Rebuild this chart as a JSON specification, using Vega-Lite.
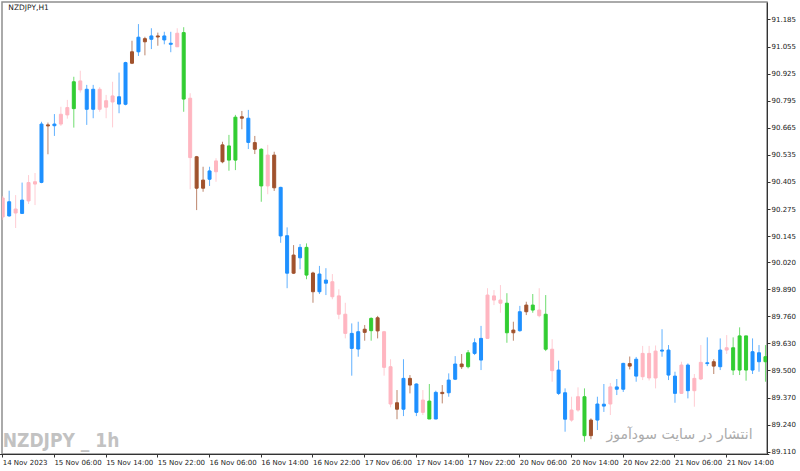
{
"$schema": "https://vega.github.io/schema/vega-lite/v6.json",
"width": 765, "height": 452,
"autosize": {"type": "none"},
"padding": {"left": 2, "top": 2, "right": 33, "bottom": 17},
"background": "white",
"config": {
 "view": {"stroke": "#8f8f8f", "strokeWidth": 1.5},
 "font": "DejaVu Sans",
 "axisX": {"labelAngle": 0}
},
"datasets": {"candles": [
{"time":"2023-11-14 22:00","open":90.328,"high":90.338,"low":90.222,"close":90.237,"signal":"down"},
{"time":"2023-11-14 23:00","open":90.242,"high":90.363,"low":90.238,"close":90.310,"signal":"up-strong"},
{"time":"2023-11-15 00:00","open":90.275,"high":90.342,"low":90.184,"close":90.256,"signal":"down"},
{"time":"2023-11-15 01:00","open":90.254,"high":90.402,"low":90.251,"close":90.318,"signal":"up-strong"},
{"time":"2023-11-15 02:00","open":90.314,"high":90.438,"low":90.299,"close":90.402,"signal":"down"},
{"time":"2023-11-15 03:00","open":90.406,"high":90.448,"low":90.294,"close":90.395,"signal":"down"},
{"time":"2023-11-15 04:00","open":90.403,"high":90.694,"low":90.399,"close":90.683,"signal":"up-strong"},
{"time":"2023-11-15 05:00","open":90.679,"high":90.690,"low":90.538,"close":90.674,"signal":"down-strong"},
{"time":"2023-11-15 06:00","open":90.675,"high":90.731,"low":90.626,"close":90.683,"signal":"up-strong"},
{"time":"2023-11-15 07:00","open":90.683,"high":90.766,"low":90.674,"close":90.730,"signal":"down"},
{"time":"2023-11-15 08:00","open":90.727,"high":90.799,"low":90.709,"close":90.762,"signal":"down"},
{"time":"2023-11-15 09:00","open":90.757,"high":90.910,"low":90.666,"close":90.886,"signal":"up"},
{"time":"2023-11-15 10:00","open":90.890,"high":90.939,"low":90.834,"close":90.847,"signal":"down"},
{"time":"2023-11-15 11:00","open":90.850,"high":90.871,"low":90.679,"close":90.754,"signal":"up-strong"},
{"time":"2023-11-15 12:00","open":90.754,"high":90.871,"low":90.711,"close":90.850,"signal":"up-strong"},
{"time":"2023-11-15 13:00","open":90.850,"high":90.860,"low":90.742,"close":90.754,"signal":"down"},
{"time":"2023-11-15 14:00","open":90.764,"high":90.823,"low":90.711,"close":90.795,"signal":"down"},
{"time":"2023-11-15 15:00","open":90.789,"high":90.886,"low":90.667,"close":90.818,"signal":"down"},
{"time":"2023-11-15 16:00","open":90.814,"high":90.930,"low":90.735,"close":90.779,"signal":"up-strong"},
{"time":"2023-11-15 17:00","open":90.778,"high":90.982,"low":90.773,"close":90.978,"signal":"up-strong"},
{"time":"2023-11-15 18:00","open":90.975,"high":91.083,"low":90.971,"close":91.030,"signal":"down-strong"},
{"time":"2023-11-15 19:00","open":91.030,"high":91.163,"low":91.010,"close":91.100,"signal":"up-strong"},
{"time":"2023-11-15 20:00","open":91.093,"high":91.102,"low":91.013,"close":91.078,"signal":"down-strong"},
{"time":"2023-11-15 21:00","open":91.090,"high":91.143,"low":91.043,"close":91.106,"signal":"up-strong"},
{"time":"2023-11-15 22:00","open":91.106,"high":91.122,"low":91.059,"close":91.101,"signal":"down-strong"},
{"time":"2023-11-15 23:00","open":91.106,"high":91.126,"low":91.066,"close":91.087,"signal":"up-strong"},
{"time":"2023-11-16 00:00","open":91.071,"high":91.126,"low":91.028,"close":91.066,"signal":"up-strong"},
{"time":"2023-11-16 01:00","open":91.054,"high":91.143,"low":91.053,"close":91.119,"signal":"down"},
{"time":"2023-11-16 02:00","open":91.122,"high":91.148,"low":90.742,"close":90.803,"signal":"up"},
{"time":"2023-11-16 03:00","open":90.807,"high":90.831,"low":90.370,"close":90.522,"signal":"down"},
{"time":"2023-11-16 04:00","open":90.526,"high":90.530,"low":90.270,"close":90.375,"signal":"down-strong"},
{"time":"2023-11-16 05:00","open":90.375,"high":90.478,"low":90.358,"close":90.414,"signal":"down-strong"},
{"time":"2023-11-16 06:00","open":90.418,"high":90.478,"low":90.386,"close":90.458,"signal":"up-strong"},
{"time":"2023-11-16 07:00","open":90.454,"high":90.519,"low":90.406,"close":90.506,"signal":"down"},
{"time":"2023-11-16 08:00","open":90.502,"high":90.598,"low":90.495,"close":90.583,"signal":"down-strong"},
{"time":"2023-11-16 09:00","open":90.578,"high":90.631,"low":90.459,"close":90.510,"signal":"up"},
{"time":"2023-11-16 10:00","open":90.510,"high":90.727,"low":90.462,"close":90.716,"signal":"up"},
{"time":"2023-11-16 11:00","open":90.718,"high":90.746,"low":90.658,"close":90.711,"signal":"down-strong"},
{"time":"2023-11-16 12:00","open":90.711,"high":90.751,"low":90.563,"close":90.595,"signal":"up-strong"},
{"time":"2023-11-16 13:00","open":90.594,"high":90.626,"low":90.539,"close":90.562,"signal":"down-strong"},
{"time":"2023-11-16 14:00","open":90.562,"high":90.567,"low":90.310,"close":90.386,"signal":"up"},
{"time":"2023-11-16 15:00","open":90.386,"high":90.583,"low":90.346,"close":90.534,"signal":"down"},
{"time":"2023-11-16 16:00","open":90.534,"high":90.550,"low":90.362,"close":90.377,"signal":"down-strong"},
{"time":"2023-11-16 17:00","open":90.379,"high":90.382,"low":90.113,"close":90.146,"signal":"up-strong"},
{"time":"2023-11-16 18:00","open":90.147,"high":90.187,"low":89.895,"close":89.967,"signal":"up-strong"},
{"time":"2023-11-16 19:00","open":89.967,"high":90.102,"low":89.963,"close":90.054,"signal":"down-strong"},
{"time":"2023-11-16 20:00","open":90.041,"high":90.107,"low":89.986,"close":90.091,"signal":"up-strong"},
{"time":"2023-11-16 21:00","open":90.091,"high":90.110,"low":89.938,"close":89.958,"signal":"up"},
{"time":"2023-11-16 22:00","open":89.968,"high":89.974,"low":89.825,"close":89.878,"signal":"down-strong"},
{"time":"2023-11-16 23:00","open":89.878,"high":90.002,"low":89.867,"close":89.963,"signal":"up-strong"},
{"time":"2023-11-17 00:00","open":89.934,"high":89.991,"low":89.862,"close":89.919,"signal":"up-strong"},
{"time":"2023-11-17 01:00","open":89.926,"high":89.963,"low":89.842,"close":89.854,"signal":"down"},
{"time":"2023-11-17 02:00","open":89.858,"high":89.890,"low":89.746,"close":89.770,"signal":"down"},
{"time":"2023-11-17 03:00","open":89.770,"high":89.825,"low":89.654,"close":89.678,"signal":"down"},
{"time":"2023-11-17 04:00","open":89.678,"high":89.726,"low":89.475,"close":89.606,"signal":"up-strong"},
{"time":"2023-11-17 05:00","open":89.603,"high":89.734,"low":89.566,"close":89.686,"signal":"up-strong"},
{"time":"2023-11-17 06:00","open":89.683,"high":89.718,"low":89.643,"close":89.698,"signal":"down-strong"},
{"time":"2023-11-17 07:00","open":89.691,"high":89.755,"low":89.643,"close":89.750,"signal":"up"},
{"time":"2023-11-17 08:00","open":89.753,"high":89.762,"low":89.654,"close":89.690,"signal":"down-strong"},
{"time":"2023-11-17 09:00","open":89.686,"high":89.690,"low":89.475,"close":89.515,"signal":"down"},
{"time":"2023-11-17 10:00","open":89.518,"high":89.554,"low":89.323,"close":89.339,"signal":"down"},
{"time":"2023-11-17 11:00","open":89.345,"high":89.406,"low":89.266,"close":89.314,"signal":"down-strong"},
{"time":"2023-11-17 12:00","open":89.314,"high":89.554,"low":89.281,"close":89.462,"signal":"up-strong"},
{"time":"2023-11-17 13:00","open":89.462,"high":89.478,"low":89.390,"close":89.430,"signal":"down-strong"},
{"time":"2023-11-17 14:00","open":89.435,"high":89.438,"low":89.281,"close":89.299,"signal":"up-strong"},
{"time":"2023-11-17 15:00","open":89.299,"high":89.406,"low":89.286,"close":89.358,"signal":"down"},
{"time":"2023-11-17 16:00","open":89.353,"high":89.435,"low":89.267,"close":89.267,"signal":"up"},
{"time":"2023-11-17 17:00","open":89.267,"high":89.403,"low":89.266,"close":89.395,"signal":"up-strong"},
{"time":"2023-11-17 18:00","open":89.395,"high":89.430,"low":89.342,"close":89.389,"signal":"down-strong"},
{"time":"2023-11-17 19:00","open":89.393,"high":89.486,"low":89.374,"close":89.454,"signal":"up-strong"},
{"time":"2023-11-17 20:00","open":89.458,"high":89.569,"low":89.454,"close":89.531,"signal":"up-strong"},
{"time":"2023-11-17 21:00","open":89.531,"high":89.579,"low":89.507,"close":89.518,"signal":"down-strong"},
{"time":"2023-11-17 22:00","open":89.518,"high":89.598,"low":89.510,"close":89.585,"signal":"up"},
{"time":"2023-11-17 23:00","open":89.582,"high":89.654,"low":89.574,"close":89.633,"signal":"up-strong"},
{"time":"2023-11-20 00:00","open":89.550,"high":89.714,"low":89.502,"close":89.654,"signal":"up-strong"},
{"time":"2023-11-20 01:00","open":89.654,"high":89.895,"low":89.654,"close":89.862,"signal":"down"},
{"time":"2023-11-20 02:00","open":89.858,"high":89.886,"low":89.814,"close":89.838,"signal":"down"},
{"time":"2023-11-20 03:00","open":89.838,"high":89.910,"low":89.777,"close":89.823,"signal":"down"},
{"time":"2023-11-20 04:00","open":89.823,"high":89.871,"low":89.633,"close":89.681,"signal":"up"},
{"time":"2023-11-20 05:00","open":89.681,"high":89.734,"low":89.643,"close":89.694,"signal":"down-strong"},
{"time":"2023-11-20 06:00","open":89.691,"high":89.810,"low":89.686,"close":89.782,"signal":"up-strong"},
{"time":"2023-11-20 07:00","open":89.782,"high":89.830,"low":89.766,"close":89.814,"signal":"down-strong"},
{"time":"2023-11-20 08:00","open":89.814,"high":89.867,"low":89.777,"close":89.790,"signal":"up"},
{"time":"2023-11-20 09:00","open":89.790,"high":89.895,"low":89.755,"close":89.763,"signal":"down"},
{"time":"2023-11-20 10:00","open":89.770,"high":89.862,"low":89.593,"close":89.602,"signal":"up"},
{"time":"2023-11-20 11:00","open":89.602,"high":89.650,"low":89.446,"close":89.499,"signal":"down"},
{"time":"2023-11-20 12:00","open":89.502,"high":89.547,"low":89.382,"close":89.390,"signal":"up-strong"},
{"time":"2023-11-20 13:00","open":89.393,"high":89.414,"low":89.206,"close":89.266,"signal":"up-strong"},
{"time":"2023-11-20 14:00","open":89.262,"high":89.374,"low":89.254,"close":89.310,"signal":"down"},
{"time":"2023-11-20 15:00","open":89.310,"high":89.419,"low":89.302,"close":89.374,"signal":"down"},
{"time":"2023-11-20 16:00","open":89.374,"high":89.414,"low":89.158,"close":89.187,"signal":"up"},
{"time":"2023-11-20 17:00","open":89.187,"high":89.270,"low":89.170,"close":89.262,"signal":"down-strong"},
{"time":"2023-11-20 18:00","open":89.262,"high":89.374,"low":89.214,"close":89.339,"signal":"up-strong"},
{"time":"2023-11-20 19:00","open":89.338,"high":89.435,"low":89.301,"close":89.329,"signal":"up-strong"},
{"time":"2023-11-20 20:00","open":89.339,"high":89.440,"low":89.286,"close":89.421,"signal":"down"},
{"time":"2023-11-20 21:00","open":89.421,"high":89.459,"low":89.382,"close":89.410,"signal":"up-strong"},
{"time":"2023-11-20 22:00","open":89.410,"high":89.537,"low":89.397,"close":89.534,"signal":"up-strong"},
{"time":"2023-11-20 23:00","open":89.533,"high":89.567,"low":89.505,"close":89.521,"signal":"down-strong"},
{"time":"2023-11-21 00:00","open":89.554,"high":89.565,"low":89.446,"close":89.473,"signal":"up-strong"},
{"time":"2023-11-21 01:00","open":89.470,"high":89.618,"low":89.454,"close":89.582,"signal":"down"},
{"time":"2023-11-21 02:00","open":89.582,"high":89.618,"low":89.452,"close":89.464,"signal":"down"},
{"time":"2023-11-21 03:00","open":89.464,"high":89.620,"low":89.414,"close":89.593,"signal":"down"},
{"time":"2023-11-21 04:00","open":89.593,"high":89.698,"low":89.566,"close":89.598,"signal":"up-strong"},
{"time":"2023-11-21 05:00","open":89.598,"high":89.622,"low":89.454,"close":89.478,"signal":"up-strong"},
{"time":"2023-11-21 06:00","open":89.473,"high":89.494,"low":89.345,"close":89.390,"signal":"up-strong"},
{"time":"2023-11-21 07:00","open":89.390,"high":89.542,"low":89.387,"close":89.526,"signal":"down"},
{"time":"2023-11-21 08:00","open":89.526,"high":89.534,"low":89.366,"close":89.403,"signal":"up-strong"},
{"time":"2023-11-21 09:00","open":89.403,"high":89.483,"low":89.326,"close":89.462,"signal":"down"},
{"time":"2023-11-21 10:00","open":89.459,"high":89.622,"low":89.454,"close":89.539,"signal":"down"},
{"time":"2023-11-21 11:00","open":89.537,"high":89.659,"low":89.521,"close":89.533,"signal":"up-strong"},
{"time":"2023-11-21 12:00","open":89.542,"high":89.554,"low":89.483,"close":89.521,"signal":"down-strong"},
{"time":"2023-11-21 13:00","open":89.518,"high":89.654,"low":89.502,"close":89.598,"signal":"up-strong"},
{"time":"2023-11-21 14:00","open":89.598,"high":89.670,"low":89.579,"close":89.609,"signal":"down"},
{"time":"2023-11-21 15:00","open":89.609,"high":89.659,"low":89.478,"close":89.502,"signal":"up"},
{"time":"2023-11-21 16:00","open":89.502,"high":89.707,"low":89.478,"close":89.666,"signal":"up"},
{"time":"2023-11-21 17:00","open":89.666,"high":89.666,"low":89.451,"close":89.502,"signal":"up"},
{"time":"2023-11-21 18:00","open":89.502,"high":89.654,"low":89.483,"close":89.590,"signal":"up-strong"},
{"time":"2023-11-21 19:00","open":89.585,"high":89.622,"low":89.494,"close":89.542,"signal":"up-strong"},
{"time":"2023-11-21 20:00","open":89.542,"high":89.622,"low":89.446,"close":89.566,"signal":"up"}
]},
"layer": [
{
 "data": {"name": "candles"},
 "mark": {"type": "rule", "clip": true, "opacity": 0.7, "strokeWidth": 1},
 "encoding": {
  "x": {"field": "time", "type": "ordinal", "title": null,
        "scale": {"type": "band", "paddingInner": 0, "paddingOuter": 0, "range": [-2.53, 766.7]},
        "axis": {"values": ["2023-11-14 22:00","2023-11-15 06:00","2023-11-15 14:00","2023-11-15 22:00","2023-11-16 06:00","2023-11-16 14:00","2023-11-16 22:00","2023-11-17 06:00","2023-11-17 14:00","2023-11-17 22:00","2023-11-20 06:00","2023-11-20 14:00","2023-11-20 22:00","2023-11-21 06:00","2023-11-21 14:00"],
                 "labelExpr": "datum.value == '2023-11-14 22:00' ? '14 Nov 2023' : timeFormat(datetime(2023, 10, toNumber(slice(datum.value, 8, 10)), toNumber(slice(datum.value, 11, 13))), '%d %b %H:%M')",
                 "labelAngle": 0, "labelAlign": "left", "labelBaseline": "top", "labelPadding": 1, "tickSize": 3,
                 "tickColor": "#333", "domainColor": "#333", "labelFont": "DejaVu Sans", "labelFontSize": 7,
                 "labelColor": "#222", "labelOverlap": false, "labelFlush": false, "labelBound": false,
                 "bandPosition": 0.5, "grid": false}},
  "y": {"field": "low", "type": "quantitative", "title": null,
        "scale": {"domain": [89.099, 91.269], "nice": false, "zero": false},
        "axis": {"orient": "right", "values": [89.11, 89.24, 89.37, 89.5, 89.63, 89.76, 89.89, 90.02, 90.145, 90.275, 90.405, 90.535, 90.665, 90.795, 90.925, 91.055, 91.185],
                 "tickCount": 40, "format": ".3f", "tickSize": 3, "labelPadding": 1, "tickColor": "#333", "domainColor": "#333",
                 "labelFont": "DejaVu Sans", "labelFontSize": 7, "labelColor": "#222", "labelOverlap": false,
                 "labelFlush": false, "labelBound": false, "grid": false}},
  "y2": {"field": "high"},
  "color": {"field": "signal", "type": "nominal", "legend": null,
            "scale": {"domain": ["up-strong", "up", "down", "down-strong"], "range": ["#1e90ff", "#32cd32", "#ffb6c1", "#a0522d"]}}
 }
},
{
 "data": {"values": [{"label": "NZDJPY _ 1h"}]},
 "mark": {"type": "text", "align": "left", "baseline": "alphabetic", "font": "Liberation Sans Narrow, DejaVu Sans Condensed, sans-serif", "fontWeight": "bold", "fontSize": 19, "color": "#c2c2c2"},
 "encoding": {
  "x": {"datum": "2023-11-14 22:00", "type": "ordinal"},
  "y": {"datum": 89.134, "type": "quantitative"},
  "text": {"field": "label"}
 }
},
{
 "data": {"values": [{"label": "انتشار در سایت سودآموز"}]},
 "mark": {"type": "text", "align": "right", "baseline": "alphabetic", "font": "DejaVu Sans", "fontSize": 14, "color": "#ababab"},
 "encoding": {
  "x": {"datum": "2023-11-21 18:00", "type": "ordinal"},
  "y": {"datum": 89.172, "type": "quantitative"},
  "text": {"field": "label"}
 }
},
{
 "data": {"name": "candles"},
 "mark": {"type": "bar", "clip": true, "width": 3, "strokeWidth": 1},
 "encoding": {
  "x": {"field": "time", "type": "ordinal"},
  "y": {"field": "open", "type": "quantitative"},
  "y2": {"field": "close"},
  "color": {"field": "signal", "type": "nominal", "legend": null},
  "stroke": {"field": "signal", "type": "nominal", "legend": null,
            "scale": {"domain": ["up-strong", "up", "down", "down-strong"], "range": ["#1e90ff", "#32cd32", "#ffb6c1", "#a0522d"]}}
 }
},
{
 "data": {"values": [{"label": "NZDJPY,H1"}]},
 "mark": {"type": "text", "align": "center", "baseline": "middle", "font": "DejaVu Sans", "fontSize": 7.5, "color": "#222"},
 "encoding": {
  "x": {"datum": "2023-11-15 02:00", "type": "ordinal"},
  "y": {"datum": 91.24, "type": "quantitative"},
  "text": {"field": "label"}
 }
}
]
}
